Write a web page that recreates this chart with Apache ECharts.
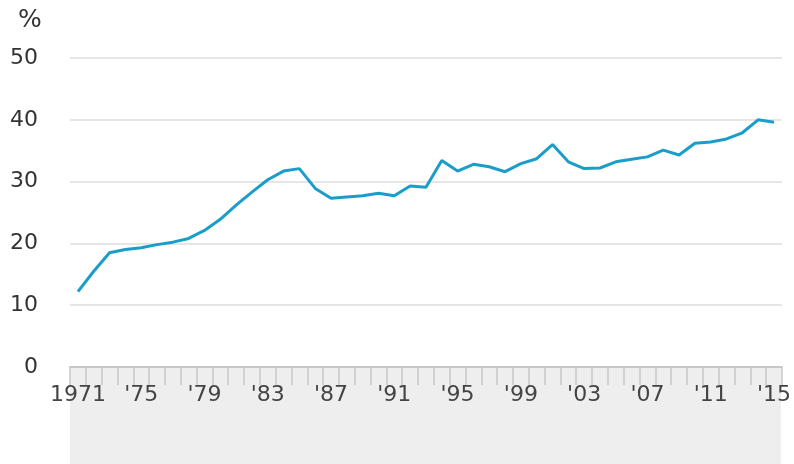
<!DOCTYPE html>
<html>
<head>
<meta charset="utf-8">
<script src="https://cdn.jsdelivr.net/npm/echarts@6/dist/echarts.min.js"></script>
<style>
  html, body { margin: 0; padding: 0; background: #fff; }
  #chart { width: 794px; height: 464px; }
</style>
</head>
<body>
<div id="chart"></div>
<script>
// years 1971..2015
var years = [
  1971, 1972, 1973, 1974, 1975, 1976, 1977, 1978, 1979, 1980,
  1981, 1982, 1983, 1984, 1985, 1986, 1987, 1988, 1989, 1990,
  1991, 1992, 1993, 1994, 1995, 1996, 1997, 1998, 1999, 2000,
  2001, 2002, 2003, 2004, 2005, 2006, 2007, 2008, 2009, 2010,
  2011, 2012, 2013, 2014, 2015
];
var shares = [
  12.2, 15.5, 18.5, 19.0, 19.3, 19.8, 20.2, 20.8, 22.1, 23.9,
  26.2, 28.3, 30.3, 31.7, 32.1, 28.9, 27.3, 27.5, 27.7, 28.1,
  27.7, 29.3, 29.1, 33.4, 31.7, 32.8, 32.4, 31.6, 32.9, 33.7,
  36.0, 33.2, 32.1, 32.2, 33.2, 33.6, 34.0, 35.1, 34.3, 36.2,
  36.4, 36.9, 37.9, 40.0, 39.6
];
var yTicks = { min: 0, max: 50, interval: 10 };

var chart = echarts.init(document.getElementById("chart"));

chart.setOption({
  animation: false,
  textStyle: { fontFamily: "DejaVu Sans" },
  title: {
    text: "%",
    left: 13,
    top: 3,
    textStyle: { fontFamily: "DejaVu Sans", fontSize: 25, fontWeight: "normal", color: "#333" }
  },
  grid: [
    { left: 70, right: 12, top: 58, bottom: 97, z: 2 },
    // grey band under the axis
    { left: 70, right: 13, top: 367, bottom: 0, show: true, backgroundColor: "#eeeeee", borderWidth: 0, z: 0 }
  ],
  xAxis: [
    {
      type: "category",
      gridIndex: 0,
      z: 4,
      data: years,
      boundaryGap: true,
      axisLine: { show: true, onZero: false, lineStyle: { color: "#c8c8c8", width: 2 } },
      axisTick: { show: true, interval: 0, length: 18, lineStyle: { color: "#c8c8c8", width: 1.5 } },
      axisLabel: {
        interval: 3,
        margin: 17,
        fontSize: 22,
        color: "#444",
        formatter: function (v, i) {
          return i === 0 ? String(v) : "'" + String(v).slice(2);
        }
      },
      splitLine: { show: false }
    },
    { type: "value", gridIndex: 1, show: false }
  ],
  yAxis: [
    {
      type: "value",
      gridIndex: 0,
      min: yTicks.min,
      max: yTicks.max,
      interval: yTicks.interval,
      axisLine: { show: false },
      axisTick: { show: false },
      axisLabel: { margin: 32, fontSize: 22, color: "#333" },
      splitLine: { show: true, lineStyle: { color: "#e6e6e6", width: 2 } }
    },
    { type: "value", gridIndex: 1, show: false }
  ],
  series: [
    {
      type: "line",
      xAxisIndex: 0,
      yAxisIndex: 0,
      data: shares,
      symbol: "none",
      smooth: false,
      lineStyle: { color: "#1a9ec9", width: 3 },
      z: 5
    }
  ]
});
</script>
</body>
</html>
